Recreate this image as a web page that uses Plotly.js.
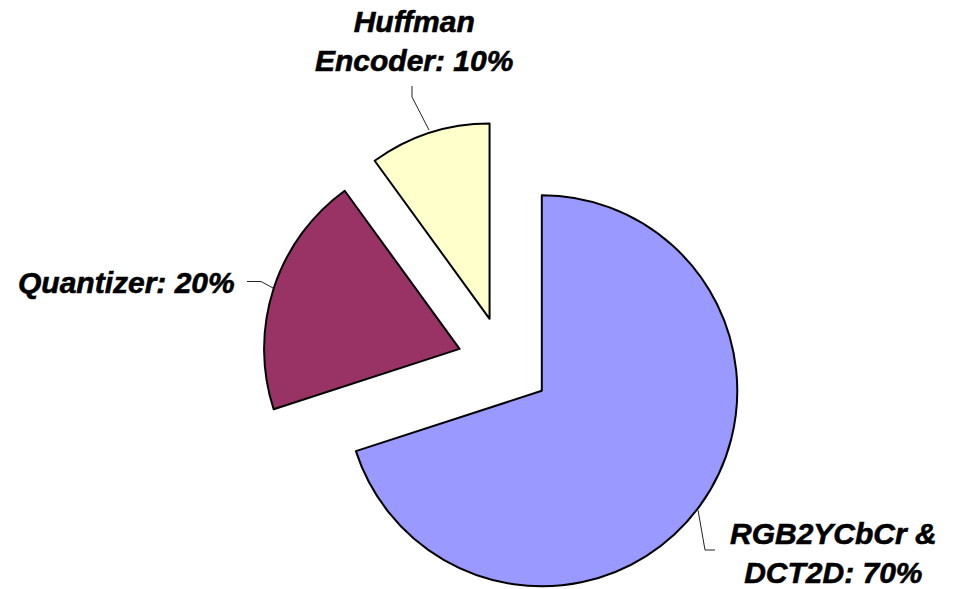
<!DOCTYPE html>
<html>
<head>
<meta charset="utf-8">
<script src="https://cdn.plot.ly/plotly-3.0.1.min.js"></script>
<style>
  html, body { margin: 0; padding: 0; background: #ffffff; overflow: hidden; }
  #chart { width: 957px; height: 620px; }
  #chart .annotation-text { stroke: #000000; stroke-width: 0.6px; }
</style>
</head>
<body>
<div id="chart"></div>
<script>
// ---- data ----
const categories = ['RGB2YCbCr & DCT2D', 'Quantizer', 'Huffman Encoder'];
const values = [70, 20, 10];
const sliceColors = ['#9999FF', '#993366', '#FFFFCC'];
const labelTexts = ['RGB2YCbCr &<br>DCT2D: 70%', 'Quantizer: 20%', 'Huffman<br>Encoder: 10%'];

// ---- layout helpers (pixel -> paper) ----
const W = 957, H = 620;
const px = x => x / W;
const py = y => 1 - y / H;
const pathOf = pts => pts.map((p, i) => (i ? 'L' : 'M') + px(p[0]).toFixed(5) + ',' + py(p[1]).toFixed(5)).join(' ');

const labelFont = { family: 'Liberation Sans, Arial, sans-serif', size: 30, color: '#000000', weight: 'bold', style: 'italic' };

const labelPos = [
  { x: 833, y: 553 },
  { x: 126, y: 282 },
  { x: 414, y: 41 }
];
const leaderLines = [
  [[698, 510], [705, 550], [715, 550]],
  [[247, 281.5], [261, 281.5], [273, 288]],
  [[412, 86], [412, 97], [429, 130]]
];

const trace = {
  type: 'pie',
  labels: categories,
  values: values,
  sort: false,
  direction: 'clockwise',
  rotation: 0,
  pull: [0.239, 0.239, 0.239],
  marker: { colors: sliceColors, line: { color: '#000000', width: 2 } },
  textinfo: 'none',
  hoverinfo: 'skip',
  showlegend: false,
  domain: { x: [261.8 / W, 746.2 / W], y: [1 - 605.5 / H, 1 - 121.1 / H] }
};

const annotations = labelTexts.map((t, i) => ({
  text: t,
  xref: 'paper', yref: 'paper',
  x: px(labelPos[i].x), y: py(labelPos[i].y),
  xanchor: 'center', yanchor: 'middle',
  align: 'center',
  showarrow: false,
  font: labelFont
}));

const shapes = leaderLines.map(pts => ({
  type: 'path',
  xref: 'paper', yref: 'paper',
  path: pathOf(pts),
  line: { color: '#222222', width: 1 }
}));

const layout = {
  width: W, height: H,
  margin: { l: 0, r: 0, t: 0, b: 0 },
  paper_bgcolor: '#ffffff',
  plot_bgcolor: '#ffffff',
  showlegend: false,
  annotations: annotations,
  shapes: shapes
};

Plotly.newPlot('chart', [trace], layout, { displayModeBar: false, staticPlot: true });
</script>
</body>
</html>
